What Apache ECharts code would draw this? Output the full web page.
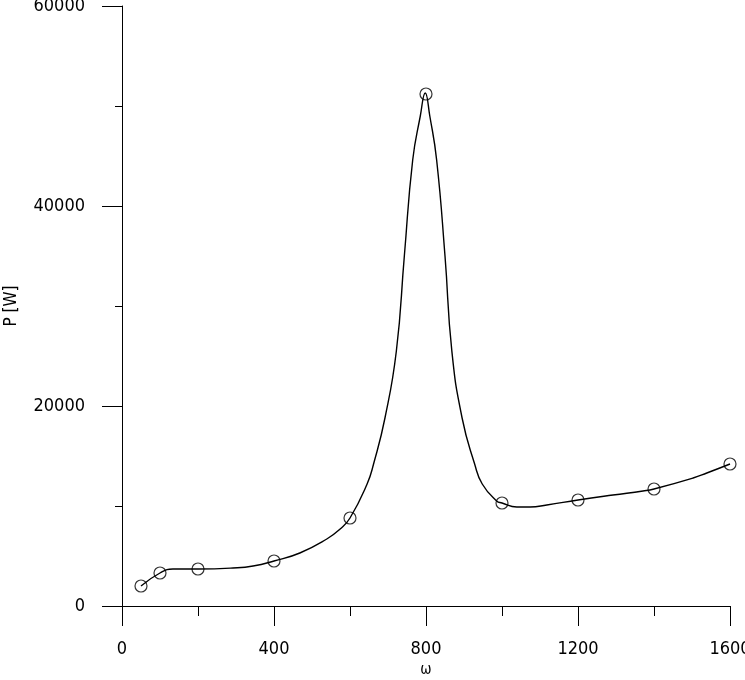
<!DOCTYPE html>
<html>
<head>
<meta charset="utf-8">
<script src="https://cdn.jsdelivr.net/npm/echarts@6/dist/echarts.min.js"></script>
<style>
html,body{margin:0;padding:0;background:#fff;}
#chart{width:745px;height:680px;}
</style>
</head>
<body>
<div id="chart"></div>
<script>
// measured points
var omega = [50, 100, 200, 400, 600, 800, 1000, 1200, 1400, 1600];
var power = [2000, 3300, 3700, 4500, 8800, 51200, 10300, 10600, 11700, 14200];

// fitted curve
var curveX = [50, 100, 134, 200, 292, 345, 400, 468, 539, 574, 600, 645, 662, 692, 722, 743, 765, 785, 798,
              810, 828, 850, 868, 895, 928, 948, 986, 1000, 1039, 1074, 1118, 1200, 1292, 1371, 1400, 1503, 1539, 1600];
var curveY = [2000, 3300, 3700, 3700, 3800, 4000, 4500, 5300, 6700, 7700, 8800, 12200, 14200, 18800, 25500, 35000, 44600, 49000, 51300,
              49000, 44600, 35000, 25500, 18800, 14200, 12200, 10500, 10300, 9900, 9900, 10100, 10600, 11100, 11500, 11700, 12800, 13300, 14200];

var xTicks = ['0', '400', '800', '1200', '1600'];
var yTicks = ['0', '20000', '40000', '60000'];

var font = "'DejaVu Sans Condensed', 'Liberation Sans Narrow', sans-serif";

function pairs(xs, ys){
	var out = [];
	for(var i = 0;i<xs.length;i++){
		out.push([xs[i], ys[i]]);
	}
	return out;
}

var myChart = echarts.init(document.getElementById('chart'), null, {renderer: 'canvas'});
var option = {
	backgroundColor: '#fff',
	animation: false,
	grid: {left: 122, right: 15, top: 6, bottom: 74, outerBoundsMode: 'none'},
	xAxis: {
		type: 'value',
		min: 0,
		max: 1600,
		interval: 400,
		name: 'ω',
		nameLocation: 'middle',
		nameGap: 56,
		nameTextStyle: {color: '#000', fontFamily: font, fontSize: 15},
		splitLine: {show: false},
		axisLine: {show: true, onZero: false, lineStyle: {color: '#000', width: 1}},
		axisTick: {show: true, inside: false, length: 20, lineStyle: {color: '#000', width: 1}},
		minorTick: {show: true, splitNumber: 2, length: 10, lineStyle: {color: '#000', width: 1}},
		axisLabel: {
			color: '#000', fontFamily: font, fontSize: 18, margin: 34,
			formatter: function(v){ return xTicks[v / 400]; }
		}
	},
	yAxis: {
		type: 'value',
		min: 0,
		max: 60000,
		interval: 20000,
		name: 'P [W]',
		nameLocation: 'middle',
		nameGap: 102,
		nameRotate: 90,
		nameTextStyle: {color: '#000', fontFamily: font, fontSize: 17},
		splitLine: {show: false},
		axisLine: {show: true, onZero: false, lineStyle: {color: '#000', width: 1}},
		axisTick: {show: true, inside: false, length: 20, lineStyle: {color: '#000', width: 1}},
		minorTick: {show: true, splitNumber: 2, length: 7, lineStyle: {color: '#000', width: 1}},
		axisLabel: {
			color: '#000', fontFamily: font, fontSize: 18, margin: 37,
			formatter: function(v){ return yTicks[v / 20000]; }
		}
	},
	series: [
		{
			name: 'curve',
			type: 'line',
			data: pairs(curveX, curveY),
			smooth: 0.5,
			showSymbol: false,
			lineStyle: {color: '#000', width: 1.4},
			z: 2
		},
		{
			name: 'points',
			type: 'scatter',
			data: pairs(omega, power),
			symbol: 'circle',
			symbolSize: 12,
			itemStyle: {color: 'rgba(0,0,0,0)', borderColor: '#000', borderWidth: 1.2},
			z: 3
		}
	]
};
myChart.setOption(option);
</script>
</body>
</html>
